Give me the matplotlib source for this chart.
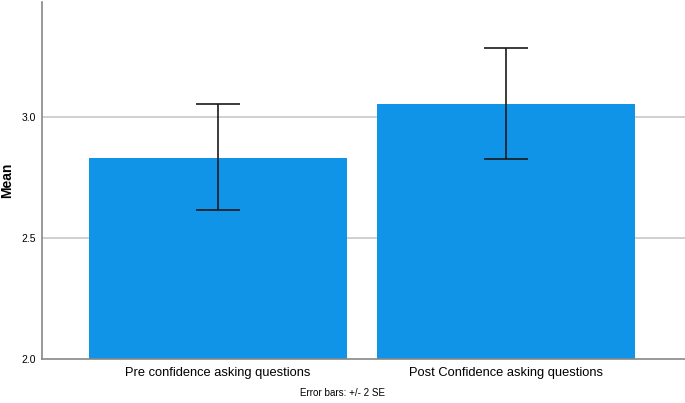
import matplotlib
matplotlib.use("Agg")
import matplotlib.pyplot as plt

plt.rcParams['font.family'] = ['Liberation Sans', 'DejaVu Sans']

categories = ["Pre confidence asking questions", "Post Confidence asking questions"]
means = [2.832, 3.052]
err_low = [2.615, 2.825]
err_high = [3.055, 3.283]
yticks = [2.0, 2.5, 3.0]
ytick_labels = ["2.0", "2.5", "3.0"]

fig = plt.figure(figsize=(6.85, 4.03), dpi=100)
ax = fig.add_axes([0.0613, 0.1092, 0.9387, 0.886])

x = list(range(len(categories)))
ax.bar(x, [m - 2.0 for m in means], bottom=2.0, width=0.896, color='#0F94E7', zorder=2)
yerr = [[m - l for m, l in zip(means, err_low)], [h - m for m, h in zip(means, err_high)]]
ax.errorbar(x, means, yerr=yerr, fmt='none', ecolor='#1a1a1a', elinewidth=1.2,
            capsize=15.5, capthick=1.2, zorder=3)

ax.set_xlim(-0.611, 1.62)
ax.set_ylim(2.0, 3.475)
ax.set_yticks(yticks)
ax.set_yticklabels(ytick_labels, fontsize=7.5)
ax.set_xticks(x)
ax.set_xticklabels(categories, fontsize=9.3)
ax.tick_params(axis='y', length=0, pad=4)
ax.tick_params(axis='x', length=0, pad=6)
for yv in yticks[1:]:
    ax.axhline(yv, color='#c8c8c8', linewidth=1.2, zorder=1)

for s in ['top', 'right']:
    ax.spines[s].set_visible(False)
for s in ['left', 'bottom']:
    ax.spines[s].set_color('#888888')
    ax.spines[s].set_linewidth(1.2)

ax.set_ylabel("Mean", fontsize=10, fontweight='bold')
ax.yaxis.label.set_verticalalignment('center')
ax.yaxis.set_label_coords(-0.054, 0.5)
fig.text(0.5, 0.025, "Error bars: +/- 2 SE", ha='center', va='center', fontsize=7.1)

fig.savefig("out.png", dpi=100)
